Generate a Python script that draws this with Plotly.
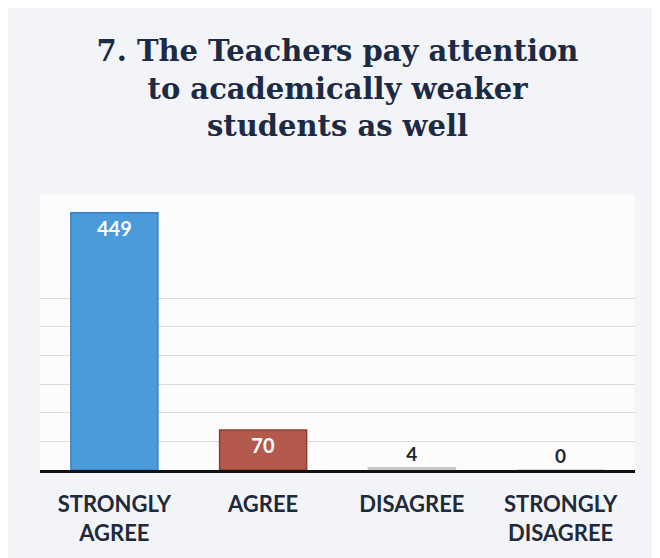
import plotly.graph_objects as go

categories = ["STRONGLY<br>AGREE", "AGREE", "DISAGREE", "STRONGLY<br>DISAGREE"]
values = [449, 70, 4, 0]
bar_colors = ["#4b9ad9", "#b45a4c", "#c8c8c8", "#c8c8c8"]
line_colors = ["#3a80c2", "#8c3d33", "#c8c8c8", "#c8c8c8"]
text_positions = ["inside", "inside", "outside", "outside"]
grid_values = [50, 100, 150, 200, 250, 300]
title_text = "7. The Teachers pay attention<br>to academically weaker<br>students as well"

fig = go.Figure()
fig.add_trace(go.Bar(
    x=categories,
    y=values,
    marker=dict(color=bar_colors, line=dict(color=line_colors, width=1.5)),
    text=[str(v) for v in values],
    textposition=text_positions,
    insidetextanchor="end",
    outsidetextfont=dict(family="Lato", size=19, color="#22262e", weight="bold"),
    insidetextfont=dict(family="Lato", size=20, color="white", weight="bold"),
    cliponaxis=False,
    width=0.585,
))

fig.update_layout(
    width=660, height=558,
    paper_bgcolor="#f3f4f7",
    plot_bgcolor="#fcfcfc",
    margin=dict(l=32, r=33, t=187, b=96),
    title=dict(
        text=title_text,
        x=0.5, xref="paper", xanchor="center",
        y=1 - 53 / 558, yref="container", yanchor="top",
        font=dict(family="DejaVu Serif", size=29, color="#1c2a44", weight="bold"),
    ),
    showlegend=False,
)
fig.update_xaxes(
    showline=True, linecolor="#111111", linewidth=3,
    ticks="", ticklabelstandoff=13,
    tickfont=dict(family="Lato", size=22, color="#1f2a3a", weight="bold"),
    showgrid=False, automargin=False,
)
fig.update_yaxes(
    range=[0, 480],
    tickvals=grid_values,
    showticklabels=False,
    showgrid=True, gridcolor="#e2d8d8", gridwidth=1,
    zeroline=False, automargin=False,
)

fig.write_html("out.html")
